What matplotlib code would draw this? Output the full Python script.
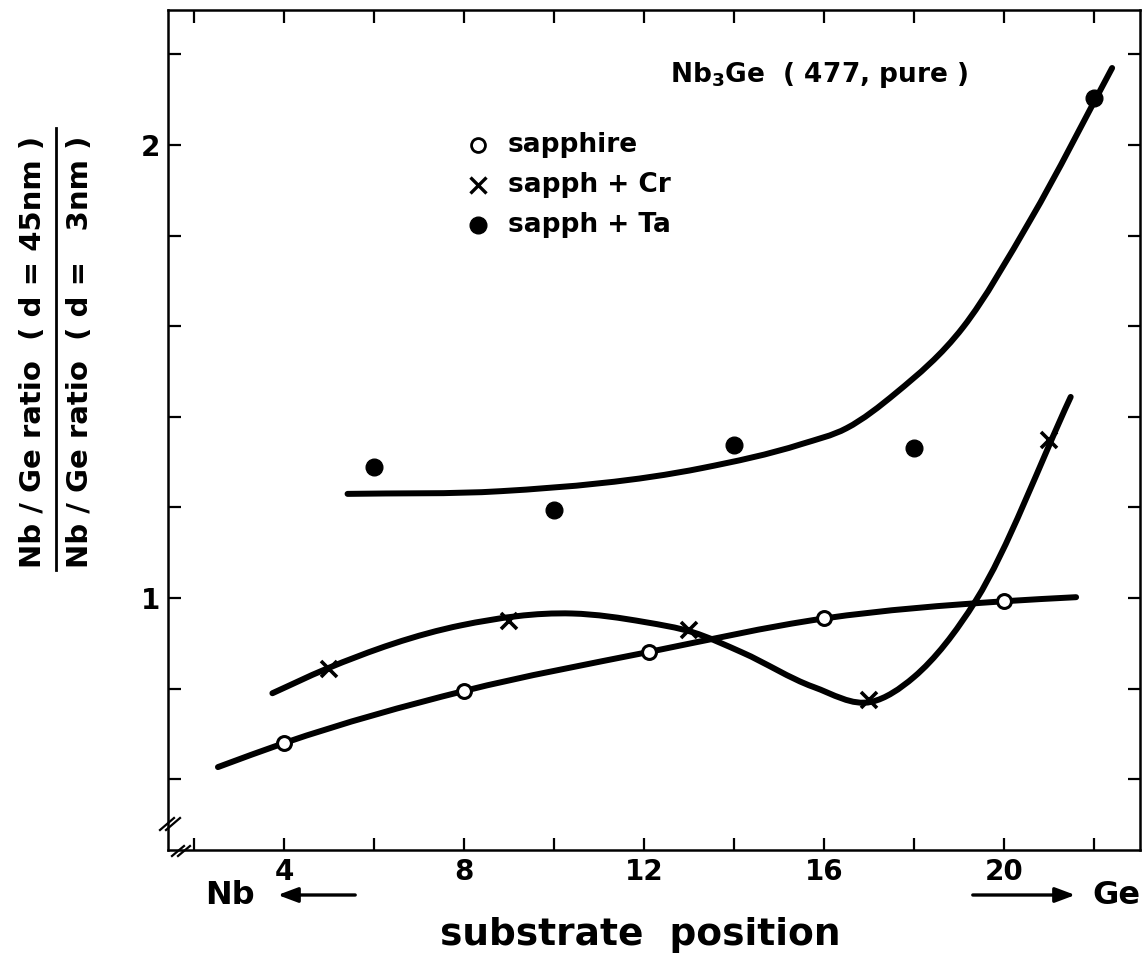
import matplotlib
matplotlib.use("Agg")
import matplotlib.pyplot as plt
from matplotlib.lines import Line2D
from matplotlib.path import Path
from matplotlib.patches import PathPatch

plt.rcParams['font.family'] = ['DejaVu Sans']
plt.rcParams['font.weight'] = 'bold'

# measured points
sapph_x = [4, 8, 12.1, 16, 20]
sapph_y = [0.680, 0.795, 0.881, 0.956, 0.993]
cr_x = [5, 9, 13, 17, 21]
cr_y = [0.843, 0.949, 0.929, 0.775, 1.349]
ta_x = [6, 10, 14, 18, 22]
ta_y = [1.289, 1.194, 1.338, 1.331, 2.104]

# hand-drawn guide curves, anchor points
sapph_cx = [2.53, 4.0, 8.0, 12.1, 16.0, 20.0, 21.6]
sapph_cy = [0.627, 0.680, 0.795, 0.881, 0.955, 0.993, 1.002]
cr_cx = [3.74, 4.92, 7.94, 10.4, 12.02, 13.07, 14.18, 15.76, 17.05, 18.0, 19.38, 21.48]
cr_cy = [0.790, 0.843, 0.940, 0.966, 0.947, 0.925, 0.880, 0.804, 0.771, 0.826, 0.996, 1.444]
ta_cx = [5.41, 8.82, 13.29, 15.5, 16.5, 17.6, 19.09, 20.58, 22.4]
ta_cy = [1.230, 1.236, 1.287, 1.340, 1.375, 1.453, 1.598, 1.834, 2.170]

xticks = [2, 4, 6, 8, 10, 12, 14, 16, 18, 20, 22]
xlabels = ['', '4', '', '8', '', '12', '', '16', '', '20', '']
yticks = [0.6, 0.8, 1.0, 1.2, 1.4, 1.6, 1.8, 2.0, 2.2]
ylabels = ['', '', '1', '', '', '', '', '2', '']


def smooth_path(xs, ys):
    """cubic Hermite through the anchors (slopes from neighbouring chords)"""
    n = len(xs)
    h = [xs[i + 1] - xs[i] for i in range(n - 1)]
    d = [(ys[i + 1] - ys[i]) / h[i] for i in range(n - 1)]
    m = [d[0]]
    for i in range(1, n - 1):
        m.append((h[i - 1] * d[i] + h[i] * d[i - 1]) / (h[i - 1] + h[i]))
    m.append(d[-1])
    verts = [(xs[0], ys[0])]
    codes = [Path.MOVETO]
    for i in range(n - 1):
        t = h[i] / 3
        verts += [(xs[i] + t, ys[i] + m[i] * t),
                  (xs[i + 1] - t, ys[i + 1] - m[i + 1] * t),
                  (xs[i + 1], ys[i + 1])]
        codes += [Path.CURVE4] * 3
    return Path(verts, codes)


W, H = 1144, 971
fig = plt.figure(figsize=(W / 100, H / 100), dpi=100)
ax = fig.add_axes([168 / W, 1 - 850 / H, (1140 - 168) / W, (850 - 10) / H])
ax.set_xlim(1.42, 23.02)
ax.set_ylim(0.444, 2.298)

lw = 4.3
for cx, cy in [(sapph_cx, sapph_cy), (cr_cx, cr_cy), (ta_cx, ta_cy)]:
    ax.add_patch(PathPatch(smooth_path(cx, cy), facecolor='none', edgecolor='black',
                           lw=lw, capstyle='round', joinstyle='round', zorder=2))

ax.plot(sapph_x, sapph_y, 'o', ms=10, mfc='white', mec='black', mew=2.2, ls='none', zorder=3)
ax.plot(cr_x, cr_y, 'x', ms=12, mec='black', mew=2.6, ls='none', zorder=3)
ax.plot(ta_x, ta_y, 'o', ms=12, mfc='black', mec='black', ls='none', zorder=3)

ax.set_xticks(xticks)
ax.set_xticklabels(xlabels)
ax.set_yticks(yticks)
ax.set_yticklabels(ylabels)
ax.tick_params(direction='in', length=9, width=1.6, top=True, right=True,
               labelsize=20, pad=6)
for sp in ax.spines.values():
    sp.set_linewidth(1.8)

# legend drawn by hand
leg_x = 478 / W
leg_rows = [145, 185, 225]
leg_marks = [
    dict(marker='o', ms=10, mfc='white', mec='black', mew=2.0),
    dict(marker='x', ms=11, mec='black', mew=2.4),
    dict(marker='o', ms=12, mfc='black', mec='black'),
]
leg_text = ['sapphire', 'sapph + Cr', 'sapph + Ta']
for yy, mk, txt in zip(leg_rows, leg_marks, leg_text):
    fig.add_artist(Line2D([leg_x], [1 - yy / H], ls='none', transform=fig.transFigure, **mk))
    fig.text(508 / W, 1 - yy / H, txt, fontsize=19, va='center', ha='left')

fig.text(670 / W, 1 - 75 / H, r'Nb$_3$Ge  ( 477, pure )', fontsize=19, va='center', ha='left')

# y label as a fraction
fig.text(33 / W, 1 - 352 / H, 'Nb / Ge ratio  ( d = 45nm )', rotation=90,
         fontsize=21, va='center', ha='center')
fig.text(80 / W, 1 - 352 / H, 'Nb / Ge ratio  ( d =   3nm )', rotation=90,
         fontsize=21, va='center', ha='center')
fig.add_artist(Line2D([56 / W, 56 / W], [1 - 570 / H, 1 - 128 / H], color='black',
                      lw=2, transform=fig.transFigure))

# x label and direction arrows
fig.text(640 / W, 1 - 935 / H, 'substrate  position', fontsize=27, va='center', ha='center')
fig.text(205 / W, 1 - 895 / H, 'Nb', fontsize=23, va='center', ha='left')
fig.text(1140 / W, 1 - 895 / H, 'Ge', fontsize=23, va='center', ha='right')
ax.annotate('', xy=(275 / W, 1 - 895 / H), xytext=(358 / W, 1 - 895 / H),
            xycoords='figure fraction', textcoords='figure fraction',
            arrowprops=dict(arrowstyle='-|>,head_length=1.2,head_width=0.45', color='black', lw=2.4))
ax.annotate('', xy=(1078 / W, 1 - 895 / H), xytext=(970 / W, 1 - 895 / H),
            xycoords='figure fraction', textcoords='figure fraction',
            arrowprops=dict(arrowstyle='-|>,head_length=1.2,head_width=0.45', color='black', lw=2.4))

# axis break marks
for dx in (0, 6):
    fig.add_artist(Line2D([(160 + dx) / W, (174 + dx) / W], [1 - 830 / H, 1 - 818 / H],
                          color='black', lw=1.6, transform=fig.transFigure))
    fig.add_artist(Line2D([(172 + dx) / W, (184 + dx) / W], [1 - 856 / H, 1 - 846 / H],
                          color='black', lw=1.6, transform=fig.transFigure))

fig.savefig('out.png', dpi=100, facecolor='white')
